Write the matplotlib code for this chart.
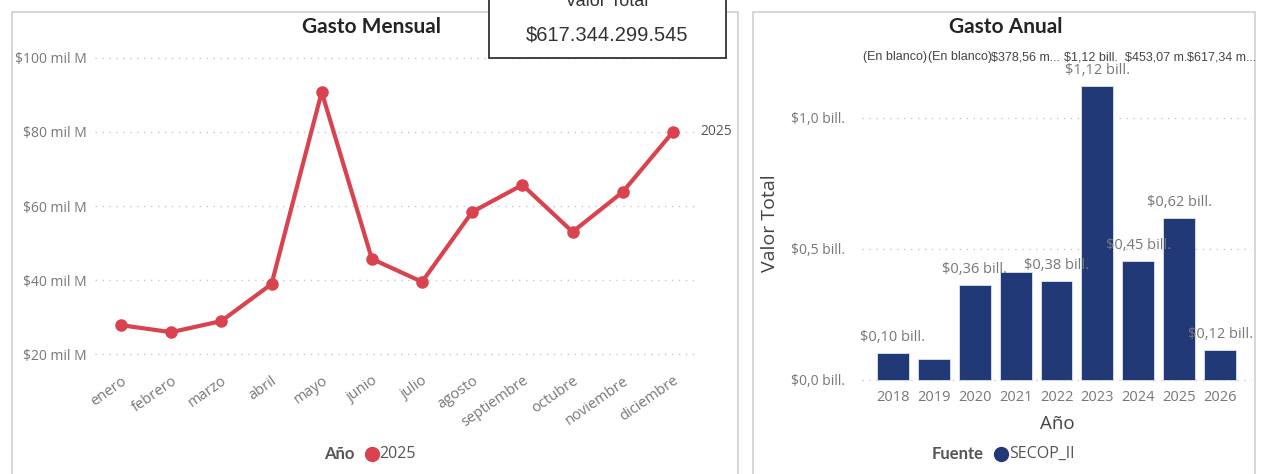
import matplotlib
matplotlib.use("Agg")
import matplotlib.pyplot as plt
from matplotlib.patches import Rectangle
from matplotlib.lines import Line2D
import numpy as np

# ---------------- data ----------------
months = ["enero", "febrero", "marzo", "abril", "mayo", "junio", "julio",
          "agosto", "septiembre", "octubre", "noviembre", "diciembre"]
monthly_values = [27.8, 25.9, 28.9, 38.9, 90.8, 45.7, 39.5, 58.4, 65.7, 53.0, 63.8, 80.0]  # mil M
monthly_ticks = [20, 40, 60, 80, 100]
monthly_tick_labels = ["$20 mil M", "$40 mil M", "$60 mil M", "$80 mil M", "$100 mil M"]
series_name = "2025"

years = ["2018", "2019", "2020", "2021", "2022", "2023", "2024", "2025", "2026"]
annual_values = [0.103, 0.080, 0.363, 0.412, 0.378, 1.122, 0.454, 0.618, 0.115]  # bill.
annual_labels = ["$0,10 bill.", "", "$0,36 bill.", "", "$0,38 bill.", "$1,12 bill.",
                 "$0,45 bill.", "$0,62 bill.", "$0,12 bill."]
annual_ticks = [0.0, 0.5, 1.0]
annual_tick_labels = ["$0,0 bill.", "$0,5 bill.", "$1,0 bill."]
top_row_labels = ["(En blanco)", "(En blanco)", "$378,56 m...", "$1,12 bill.", "$453,07 m.", "$617,34 m..."]

card_title = "Valor Total"
card_value = "$617.344.299.545"

# ---------------- style ----------------
W, H = 1263, 474
RED = "#D9434F"
NAVY = "#213A77"
GRAY = "#777777"
DARK = "#252423"
GRID = "#C8C8C8"
FONT = "Open Sans"
TFONT = "Lato"

fig = plt.figure(figsize=(W / 100, H / 100), dpi=100)
fig.patch.set_facecolor("white")


def fx(px):
    return px / W


def fy(py):
    return 1 - py / H


def add_axes_px(x0, y0, x1, y1):
    return fig.add_axes([fx(x0), fy(y1), (x1 - x0) / W, (y1 - y0) / H])


# panel borders
fig.patches.append(Rectangle((fx(12), fy(478)), (738 - 12) / W, (478 - 12) / H,
                             transform=fig.transFigure, fill=False, edgecolor="#D0D0D0", lw=1.2))
fig.patches.append(Rectangle((fx(753), fy(478)), (1255 - 753) / W, (478 - 12) / H,
                             transform=fig.transFigure, fill=False, edgecolor="#D0D0D0", lw=1.2))

# ---------------- left: line chart ----------------
ax = add_axes_px(95, 50, 695, 365)
x = np.arange(len(months))
ax.plot(x, monthly_values, color=RED, lw=3, marker="o", ms=8, zorder=3, clip_on=False)
ax.set_xlim(-0.518, 11.44)
ax.set_ylim(17.03, 102.16)
ax.set_yticks(monthly_ticks)
ax.set_yticklabels(monthly_tick_labels, fontsize=10, color=GRAY, family=FONT)
ax.set_xticks(x)
ax.set_xticklabels(months, rotation=35, ha="right", rotation_mode="anchor",
                   fontsize=10.5, color=GRAY, family=FONT)
ax.tick_params(length=0, pad=6)
ax.tick_params(axis="y", pad=6)
ax.grid(axis="y", linestyle=(0, (1, 4)), color=GRID, lw=1)
for s in ax.spines.values():
    s.set_visible(False)
ax.text(len(months) - 1 + 0.55, monthly_values[-1], series_name, fontsize=10,
        color="#555555", va="center", ha="left", family=FONT, clip_on=False)

fig.text(fx(372), fy(27), "Gasto Mensual", ha="center", va="center", fontsize=15,
         fontweight="bold", color=DARK, family=TFONT)

# legend left
fig.text(fx(354), fy(454), "Año", ha="right", va="center", fontsize=12,
         fontweight="bold", color="#555555", family=TFONT)
fig.add_artist(Line2D([fx(372)], [fy(454)], marker="o", ms=10, color=RED,
                      transform=fig.transFigure))
fig.text(fx(379), fy(454), series_name, ha="left", va="center", fontsize=11.5,
         color="#555555", family=FONT)

# ---------------- card ----------------
fig.patches.append(Rectangle((fx(489), fy(58)), (726 - 489) / W, 62 / H,
                             transform=fig.transFigure, facecolor="white",
                             edgecolor="#333333", lw=1.3, zorder=10))
fig.text(fx(607), fy(2), card_title, ha="center", va="center", fontsize=13,
         color="#333333", family="Liberation Sans", zorder=11)
fig.text(fx(607), fy(35), card_value, ha="center", va="center", fontsize=14.5,
         color="#333333", family="Liberation Sans", zorder=11)

# ---------------- right: bar chart ----------------
bx = add_axes_px(862, 75, 1252, 383)
xb = np.arange(len(years))
bars = bx.bar(xb, annual_values, width=0.78, color=NAVY, edgecolor="#DDE3F0",
              lw=0.6, zorder=3)
bx.set_xlim(-0.758, 8.78)
bx.set_ylim(-0.0115, 1.164)
bx.set_yticks(annual_ticks)
bx.set_yticklabels(annual_tick_labels, fontsize=10, color=GRAY, family=FONT)
bx.set_xticks(xb)
bx.set_xticklabels(years, fontsize=10.5, color=GRAY, family=FONT)
bx.tick_params(length=0)
bx.tick_params(axis="y", pad=12)
bx.tick_params(axis="x", pad=5)
bx.grid(axis="y", linestyle=(0, (1, 4)), color=GRID, lw=1, zorder=0)
bx.set_axisbelow(True)
for s in bx.spines.values():
    s.set_visible(False)
for xi, v, lab in zip(xb, annual_values, annual_labels):
    if lab:
        bx.annotate(lab, (xi, v), xytext=(0, 6), textcoords="offset points",
                    ha="center", va="bottom", fontsize=10.5, color=GRAY,
                    family=FONT, clip_on=False, zorder=4)

bx.set_ylabel("Valor Total", fontsize=14, color="#444444", family=FONT)
bx.yaxis.set_label_coords(-0.213, 0.52)
bx.set_xlabel("Año", fontsize=13.5, color="#444444", family=FONT, labelpad=7)

fig.text(fx(1006), fy(27), "Gasto Anual", ha="center", va="center", fontsize=15,
         fontweight="bold", color=DARK, family=TFONT)

# top row of overlapping labels
for px, lab in zip(np.linspace(895, 1222, len(top_row_labels)), top_row_labels):
    fig.text(fx(px), fy(57), lab, ha="center", va="center", fontsize=9,
             color="#444444", family="Liberation Sans")

# legend right
fig.text(fx(984), fy(454), "Fuente", ha="right", va="center", fontsize=12,
         fontweight="bold", color="#555555", family=TFONT)
fig.add_artist(Line2D([fx(1001)], [fy(454)], marker="o", ms=10, color=NAVY,
                      transform=fig.transFigure))
fig.text(fx(1009), fy(454), "SECOP_II", ha="left", va="center", fontsize=11.5,
         color="#555555", family=FONT)

fig.savefig("out.png", dpi=100, facecolor="white")
